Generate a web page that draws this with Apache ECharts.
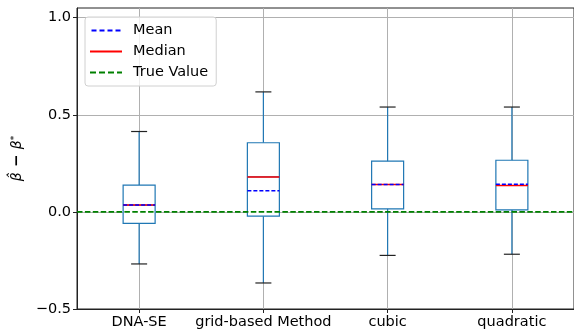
<!DOCTYPE html>
<html>
<head>
<meta charset="utf-8">
<script src="https://cdn.jsdelivr.net/npm/echarts@6/dist/echarts.min.js"></script>
<style>
html,body{margin:0;padding:0;background:#fff}
#main{width:574px;height:330px}
</style>
</head>
<body>
<div id="main"></div>
<script>
var categories=['DNA-SE','grid-based Method','cubic','quadratic']
var whiskerLow=[-0.268,-0.366,-0.224,-0.218]
var q1=[-0.059,-0.022,0.016,0.010]
var medians=[0.035,0.180,0.141,0.136]
var q3=[0.138,0.356,0.261,0.266]
var whiskerHigh=[0.414,0.618,0.540,0.540]
var means=[0.035,0.109,0.141,0.143]
var trueValue=0
var yTicks=[-0.5,0,0.5,1.0]

var boxData=[],whiskData=[],medData=[],meanData=[],capData=[]
for(var i=0;i<categories.length;i++){
	// box only, whiskers drawn separately (matplotlib style: blue whiskers, black short caps)
	boxData.push([q1[i],q1[i],medians[i],q3[i],q3[i]])
	whiskData.push([i,q1[i],whiskerLow[i]])
	whiskData.push([i,q3[i],whiskerHigh[i]])
	medData.push([i,medians[i]])
	meanData.push([i,means[i]])
	capData.push([i,whiskerLow[i]])
	capData.push([i,whiskerHigh[i]])
}

// short horizontal segment centred on a category
function seg(halfW,color,width,dash){
	return function(params,api){
		var c=api.coord([api.value(0),api.value(1)])
		return {type:'line',shape:{x1:c[0]-halfW,y1:c[1],x2:c[0]+halfW,y2:c[1]},
			style:{stroke:color,lineWidth:width,lineDash:dash||null}}
	}
}

var font='DejaVu Sans'
var mychart=echarts.init(document.getElementById('main'))
var option={
	animation:false,
	textStyle:{fontFamily:font},
	grid:{left:77,right:-5,top:8,bottom:21,show:true,borderColor:'#222',borderWidth:1},
	legend:{
		orient:'vertical',left:85,top:17,
		padding:[6,8,6,5],itemGap:6,
		itemWidth:32,itemHeight:2,
		borderColor:'#d0d0d0',borderWidth:1,borderRadius:3,
		backgroundColor:'rgba(255,255,255,0.8)',
		textStyle:{fontSize:14.5,color:'#000',fontFamily:font,padding:[0,0,0,6]},
		data:[
			{name:'Mean',icon:'path://M0,0h5v2h-5zM8,0h5v2h-5zM16,0h5v2h-5zM24,0h5v2h-5z'},
			{name:'Median',icon:'rect'},
			{name:'True Value',icon:'path://M0,0h6v2h-6zM9,0h6v2h-6zM18,0h6v2h-6zM27,0h5v2h-5z'}
		]
	},
	xAxis:{
		type:'category',data:categories,
		axisLine:{onZero:false,lineStyle:{color:'#222',width:1}},
		axisTick:{show:true,alignWithLabel:true,length:4,lineStyle:{color:'#222'}},
		axisLabel:{fontSize:14.5,color:'#000',margin:6,interval:0,fontFamily:font},
		splitLine:{show:true,alignWithLabel:true,lineStyle:{color:'#b0b0b0',width:1}}
	},
	yAxis:{
		type:'value',min:-0.5,max:1.05,interval:0.5,
		name:'{b|β̂}{m| − }{b|β}{s|*}',
		nameLocation:'middle',nameGap:48,nameRotate:90,
		nameTextStyle:{rich:{
			b:{fontSize:14,fontStyle:'italic',color:'#000',fontFamily:font},
			m:{fontSize:15,fontWeight:'bold',color:'#000',fontFamily:font},
			s:{fontSize:9,color:'#000',fontFamily:font,verticalAlign:'top',padding:[0,0,6,0]}
		}},
		axisLine:{show:true,lineStyle:{color:'#222',width:1}},
		axisTick:{show:true,length:4,customValues:yTicks,lineStyle:{color:'#222'}},
		axisLabel:{fontSize:14.5,color:'#000',margin:6,fontFamily:font,customValues:yTicks,
			formatter:function(v){return (v<0?'−':'')+Math.abs(v).toFixed(1)}},
		splitLine:{show:true,lineStyle:{color:'#b0b0b0',width:1}}
	},
	series:[{
		type:'boxplot',name:'box',
		boxWidth:[32,32],
		itemStyle:{color:'#fff',borderColor:'#1f77b4',borderWidth:1.2},
		emphasis:{disabled:true},
		data:boxData
	},{
		type:'custom',name:'whiskers',
		renderItem:function(params,api){
			var a=api.coord([api.value(0),api.value(1)])
			var b=api.coord([api.value(0),api.value(2)])
			return {type:'line',shape:{x1:a[0],y1:a[1],x2:b[0],y2:b[1]},
				style:{stroke:'#1f77b4',lineWidth:1.2}}
		},
		data:whiskData,z:2
	},{
		type:'custom',name:'caps',
		renderItem:seg(8,'#222',1.2),
		data:capData,z:3
	},{
		type:'custom',name:'Median',
		itemStyle:{color:'#ff0000'},
		renderItem:seg(16,'#ff0000',1.5),
		data:medData,z:4
	},{
		type:'custom',name:'Mean',
		itemStyle:{color:'#0000ff'},
		renderItem:seg(16,'#0000ff',1.5,[4,2]),
		data:meanData,z:5
	},{
		type:'custom',name:'True Value',
		itemStyle:{color:'#008000'},
		renderItem:function(params,api){
			var cs=params.coordSys
			var y=api.coord([0,api.value(1)])[1]
			return {type:'line',shape:{x1:cs.x,y1:y,x2:cs.x+cs.width,y2:y},
				style:{stroke:'#008000',lineWidth:1.8,lineDash:[5.5,2.4]}}
		},
		data:[[0,trueValue]],z:6
	}]
}
mychart.setOption(option)
</script>
</body>
</html>
